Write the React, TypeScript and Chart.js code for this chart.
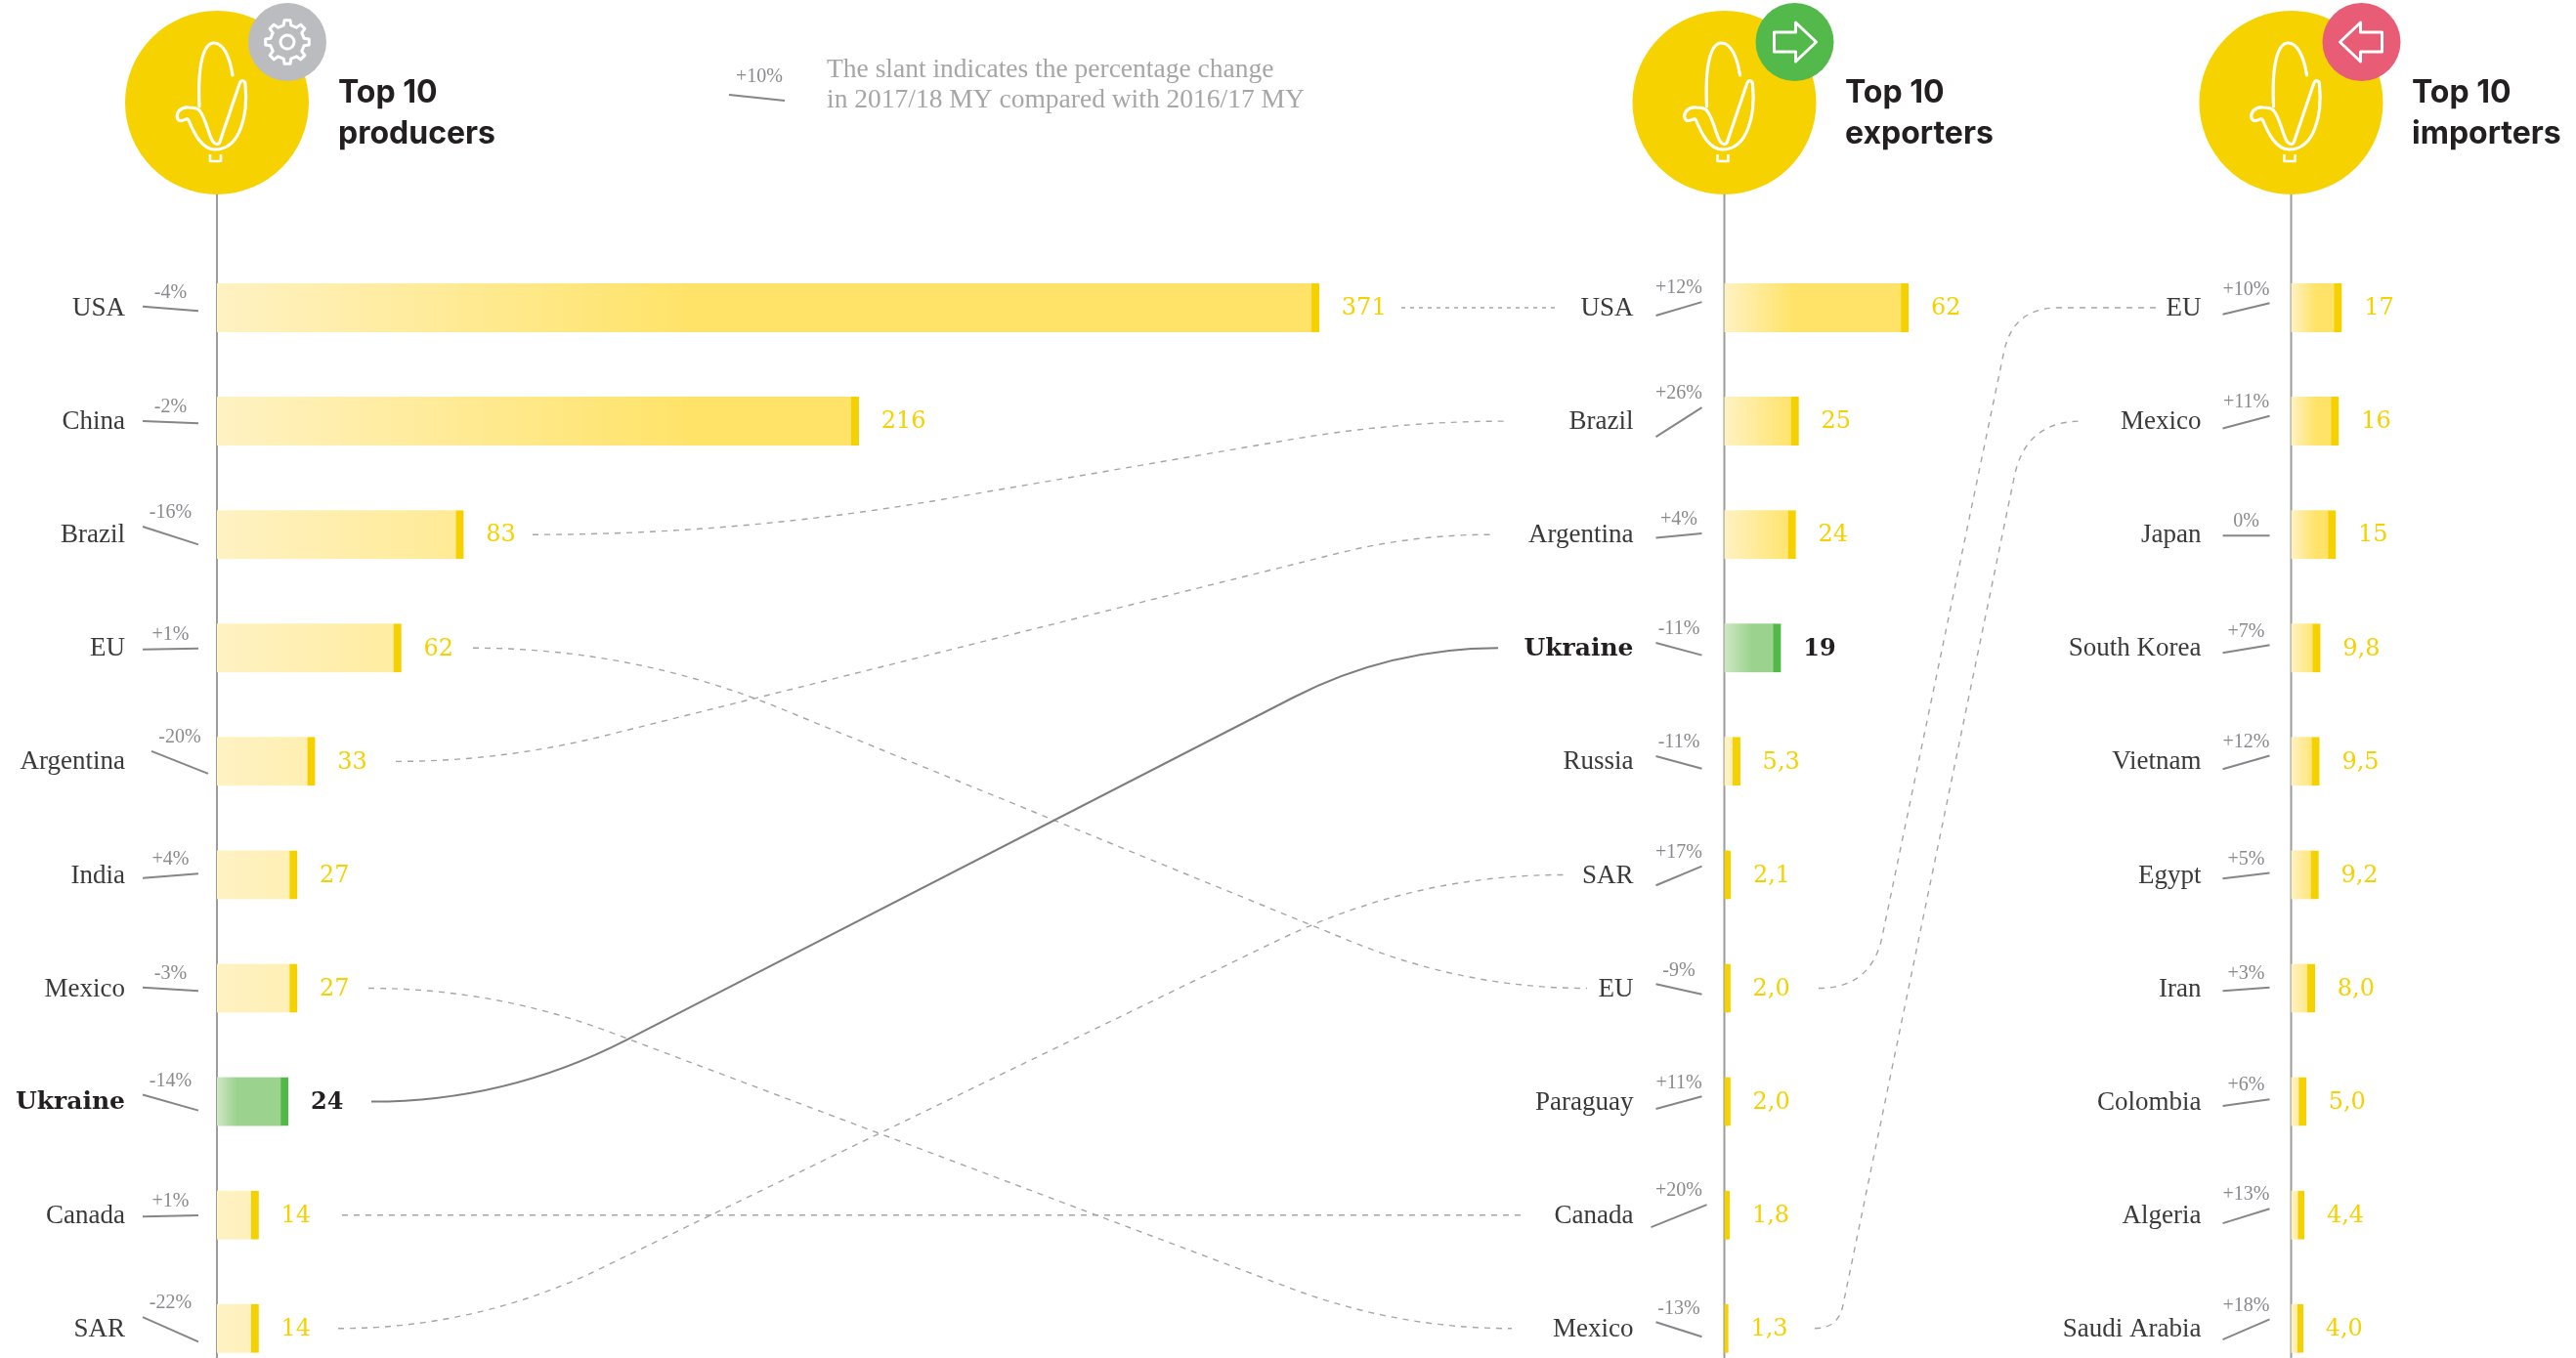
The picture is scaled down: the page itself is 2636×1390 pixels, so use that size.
import React, { useEffect, useRef } from "react";
import { Chart, registerables } from "chart.js";

Chart.register(...registerables);

// ---------- data ----------
const producerNames = ["USA", "China", "Brazil", "EU", "Argentina", "India", "Mexico", "Ukraine", "Canada", "SAR"];
const producerValues = [371, 216, 83, 62, 33, 27, 27, 24, 14, 14];
const producerChange = [-4, -2, -16, 1, -20, 4, -3, -14, 1, -22];

const exporterNames = ["USA", "Brazil", "Argentina", "Ukraine", "Russia", "SAR", "EU", "Paraguay", "Canada", "Mexico"];
const exporterValues = [62, 25, 24, 19, 5.3, 2.1, 2.0, 2.0, 1.8, 1.3];
const exporterChange = [12, 26, 4, -11, -11, 17, -9, 11, 20, -13];

const importerNames = ["EU", "Mexico", "Japan", "South Korea", "Vietnam", "Egypt", "Iran", "Colombia", "Algeria", "Saudi Arabia"];
const importerValues = [17, 16, 15, 9.8, 9.5, 9.2, 8.0, 5.0, 4.4, 4.0];
const importerChange = [10, 11, 0, 7, 12, 5, 3, 6, 13, 18];

// ---------- layout & style ----------
const W = 2636;
const VIEW_H = 1390;
const CANVAS_H = 1434; // rows end at 1418; the layout reserves 16px below them
const PX_PER_UNIT = 3.04;

const YELLOW = "#f5d100";
const GREEN = "#52b947";
const DARK = "#231f20";
const SLANT = "#86868a";
const FOCUS = "Ukraine";

const panels = [
  { x: "x1", y: "y1", axis: 222, labelGap: 94, names: producerNames, values: producerValues, change: producerChange,
    fade: 480, greenFade: 20, slantFrom: -76, slantTo: -19, badge: "gear", badgeColor: "#bbbcc0", title: ["Top 10", "producers"], titleX: 346, wide: { Argentina: [-67, -9] } },
  { x: "x2", y: "y2", axis: 1764.5, labelGap: 93, names: exporterNames, values: exporterValues, change: exporterChange,
    fade: 70, greenFade: 28, slantFrom: -70, slantTo: -23, badge: "right", badgeColor: "#52b94a", title: ["Top 10", "exporters"], titleX: 1888, wide: { Canada: [-75, -18] } },
  { x: "x3", y: "y3", axis: 2344.5, labelGap: 92, names: importerNames, values: importerValues, change: importerChange,
    fade: 25, greenFade: 20, slantFrom: -70, slantTo: -22, badge: "left", badgeColor: "#e85d75", title: ["Top 10", "importers"], titleX: 2468, wide: {} },
] as any[];

// connector routes: panel / row at both ends, x of start, first bend, second bend, end
const routes = [
  { from: ["y1", 0], to: ["y2", 0], xs: [1434, 1500, 1540, 1595], dash: [4, 5], solid: false },
  { from: ["y1", 2], to: ["y2", 1], xs: [545, 755, 1430, 1541], dash: [6, 6], solid: false },
  { from: ["y1", 3], to: ["y2", 6], xs: [484, 647, 1500, 1624], dash: [6, 6], solid: false },
  { from: ["y1", 4], to: ["y2", 2], xs: [405, 513, 1446, 1525], dash: [6, 6], solid: false },
  { from: ["y1", 6], to: ["y2", 9], xs: [377, 505, 1430, 1547], dash: [6, 6], solid: false },
  { from: ["y1", 7], to: ["y2", 3], xs: [380, 518, 1422, 1533], dash: [], solid: true },
  { from: ["y1", 8], to: ["y2", 8], xs: [350, 700, 1200, 1560], dash: [6, 6], solid: false },
  { from: ["y1", 9], to: ["y2", 5], xs: [346, 488, 1446, 1600], dash: [6, 6], solid: false },
  { from: ["y2", 6], to: ["y3", 0], xs: [1861, 1915, 2060, 2206], rb: 46, dash: [6, 6], solid: false },
  { from: ["y2", 9], to: ["y3", 1], xs: [1857, 1881, 2073, 2130], dash: [6, 6], solid: false },
] as any[];

const fmt = (v: number) => (v >= 10 ? String(v) : v.toFixed(1).replace(".", ","));
const signed = (v: number) => (v > 0 ? `+${v}%` : `${v}%`);

function drawCorn(c: CanvasRenderingContext2D, cx: number, cy: number) {
  c.save();
  c.translate(cx, cy);
  c.strokeStyle = "#fff";
  c.lineWidth = 3.2;
  c.lineCap = "round";
  c.lineJoin = "round";
  c.beginPath();
  c.moveTo(16, -28);
  c.bezierCurveTo(13, -48, 6, -61, -3, -61);
  c.bezierCurveTo(-14, -61, -20, -38, -18, 4);
  c.stroke();
  c.beginPath();
  c.moveTo(-18, 8);
  c.bezierCurveTo(-11, 16, -8, 36, -4, 40);
  c.bezierCurveTo(-1, 44, 2, 43, 3, 40);
  c.lineTo(23, -19);
  c.bezierCurveTo(25, -24, 29, -23, 29, -18);
  c.bezierCurveTo(32, 12, 24, 48, -2, 48);
  c.bezierCurveTo(-16, 48, -24, 30, -29, 18);
  c.bezierCurveTo(-31, 14, -36, 22, -40, 17);
  c.bezierCurveTo(-43, 10, -36, 4, -29, 5);
  c.bezierCurveTo(-24, 5, -20, 6, -18, 8);
  c.stroke();
  c.lineWidth = 2.6;
  c.lineCap = "butt";
  c.beginPath();
  c.moveTo(-7, 53);
  c.lineTo(-7, 60);
  c.lineTo(4, 60);
  c.lineTo(4, 53);
  c.stroke();
  c.restore();
}

function drawBadge(c: CanvasRenderingContext2D, kind: string, cx: number, cy: number) {
  c.save();
  c.translate(cx, cy);
  c.strokeStyle = "#fff";
  c.lineWidth = 3;
  c.lineJoin = "round";
  if (kind === "gear") {
    const teeth = 8;
    c.beginPath();
    for (let i = 0; i < teeth; i++) {
      const a = (i / teeth) * Math.PI * 2 - Math.PI / 2;
      const step = (Math.PI * 2) / teeth;
      const pts: [number, number][] = [
        [a - step * 0.28, 17.5],
        [a - step * 0.17, 22.5],
        [a + step * 0.17, 22.5],
        [a + step * 0.28, 17.5],
      ];
      pts.forEach(([ang, r], k) => {
        const px = Math.cos(ang) * r;
        const py = Math.sin(ang) * r;
        if (i === 0 && k === 0) c.moveTo(px, py);
        else c.lineTo(px, py);
      });
    }
    c.closePath();
    c.stroke();
    c.beginPath();
    c.arc(0, 0, 7, 0, Math.PI * 2);
    c.stroke();
  } else {
    const s = kind === "right" ? 1 : -1;
    const pts = [[-21, -10], [1, -10], [1, -20], [22, 0], [1, 20], [1, 10], [-21, 10]];
    c.beginPath();
    pts.forEach(([px, py], k) => (k ? c.lineTo(s * px, py) : c.moveTo(s * px, py)));
    c.closePath();
    c.stroke();
  }
  c.restore();
}

const connectors = {
  id: "connectors",
  beforeDatasetsDraw(chart: any) {
    const c = chart.ctx as CanvasRenderingContext2D;
    routes.forEach((r) => {
      const y0 = chart.scales[r.from[0]].getPixelForValue(r.from[1]);
      const y1 = chart.scales[r.to[0]].getPixelForValue(r.to[1]);
      const [x0, ax, bx, x1] = r.xs;
      c.save();
      c.strokeStyle = r.solid ? "#7d7d7d" : "#a6a6a6";
      c.lineWidth = r.solid ? 2 : 1.4;
      c.setLineDash(r.dash);
      c.beginPath();
      c.moveTo(x0, y0);
      if (y0 === y1) {
        c.lineTo(x1, y1);
      } else {
        const len = Math.hypot(bx - ax, y1 - y0);
        const ux = (bx - ax) / len;
        const uy = (y1 - y0) / len;
        const ra = Math.min(ax - x0, len / 2.2);
        const rb = r.rb || Math.min(x1 - bx, len / 2.2);
        c.quadraticCurveTo(ax, y0, ax + ux * ra, y0 + uy * ra);
        c.lineTo(bx - ux * rb, y1 - uy * rb);
        c.quadraticCurveTo(bx, y1, bx + rb, y1);
        c.lineTo(x1, y1);
      }
      c.stroke();
      c.restore();
    });
    // vertical stems, from the disc down through the rows
    panels.forEach((p) => {
      const x = chart.scales[p.x].getPixelForValue(0);
      c.save();
      c.strokeStyle = "#9c9c9c";
      c.lineWidth = 2;
      c.beginPath();
      c.moveTo(x, 150);
      c.lineTo(x, CANVAS_H);
      c.stroke();
      c.restore();
    });
  },
};

const annotations = {
  id: "annotations",
  afterDraw(chart: any) {
    const c = chart.ctx as CanvasRenderingContext2D;
    panels.forEach((p, pi) => {
      const meta = chart.getDatasetMeta(pi);
      const xs = chart.scales[p.x];
      const ys = chart.scales[p.y];
      const zero = xs.getPixelForValue(0);
      // value labels
      p.values.forEach((v: number, i: number) => {
        const el = meta.data[i];
        const focus = p.names[i] === FOCUS;
        c.save();
        c.font = `${focus ? "bold " : ""}24px "DejaVu Serif"`;
        c.fillStyle = focus ? DARK : YELLOW;
        c.textAlign = "left";
        c.textBaseline = "middle";
        c.fillText(fmt(v), el.x + 23, ys.getPixelForValue(i) + 1);
        c.restore();
        // slant mark + percentage
        const [a, b] = p.wide[p.names[i]] || [p.slantFrom, p.slantTo];
        const dy = -p.change[i] * 1.15;
        const cy = ys.getPixelForValue(i) + 1;
        c.save();
        c.strokeStyle = SLANT;
        c.lineWidth = 2;
        c.beginPath();
        c.moveTo(zero + a, cy - dy / 2);
        c.lineTo(zero + b, cy + dy / 2);
        c.stroke();
        c.font = `20px "Liberation Serif"`;
        c.fillStyle = "#8a8a8e";
        c.textAlign = "center";
        c.textBaseline = "middle";
        c.fillText(signed(p.change[i]), zero + (a + b) / 2, cy - Math.abs(dy) / 2 - 14);
        c.restore();
      });
      // disc, corn, badge
      c.save();
      c.fillStyle = "#f5d200";
      c.beginPath();
      c.arc(zero, 105, 94, 0, Math.PI * 2);
      c.fill();
      c.restore();
      drawCorn(c, zero, 105);
      c.save();
      c.fillStyle = p.badgeColor;
      c.beginPath();
      c.arc(zero + 72, 43, 40, 0, Math.PI * 2);
      c.fill();
      c.restore();
      drawBadge(c, p.badge, zero + 72, 43);
      // title
      c.save();
      c.font = `700 32px Inter`;
      c.fillStyle = DARK;
      c.textAlign = "left";
      c.textBaseline = "middle";
      c.fillText(p.title[0], p.titleX, 95);
      c.fillText(p.title[1], p.titleX, 137);
      c.restore();
    });
    // slant key
    c.save();
    c.strokeStyle = SLANT;
    c.lineWidth = 2;
    c.beginPath();
    c.moveTo(746, 97);
    c.lineTo(803, 103);
    c.stroke();
    c.font = `20px "Liberation Serif"`;
    c.fillStyle = "#8a8a8e";
    c.textAlign = "center";
    c.textBaseline = "middle";
    c.fillText("+10%", 777, 79);
    c.font = `27.5px "Liberation Serif"`;
    c.fillStyle = "#a6a6a6";
    c.textAlign = "left";
    c.fillText("The slant indicates the percentage change", 846, 72);
    c.fillText("in 2017/18 MY compared with 2016/17 MY", 846, 103);
    c.restore();
  },
};

export default function App() {
  const ref = useRef<HTMLCanvasElement>(null);
  useEffect(() => {
    const scales: any = {};
    panels.forEach((p) => {
      scales[p.x] = {
        type: "linear",
        display: false,
        min: -p.axis / PX_PER_UNIT,
        max: (W - p.axis) / PX_PER_UNIT,
      };
      scales[p.y] = {
        type: "category",
        labels: p.names,
        position: { [p.x]: -p.labelGap / PX_PER_UNIT },
        grid: { display: false },
        border: { display: false },
        ticks: {
          autoSkip: false,
          padding: 0,
          labelOffset: 1,
          color: (ctx: any) => (p.names[ctx.index] === FOCUS ? DARK : "#3a3a3a"),
          font: (ctx: any) =>
            p.names[ctx.index] === FOCUS
              ? { family: "DejaVu Serif", weight: "bold", size: 25 }
              : { family: "Liberation Serif", size: 27 },
        },
      };
    });
    const chart = new Chart(ref.current as HTMLCanvasElement, {
      type: "bar",
      plugins: [connectors, annotations],
      data: {
        labels: producerNames,
        datasets: panels.map((p) => ({
          label: p.title.join(" "),
          data: p.values,
          xAxisID: p.x,
          yAxisID: p.y,
          grouped: false,
          barThickness: 50,
          borderSkipped: false,
          borderWidth: { top: 0, bottom: 0, left: 0, right: 8 },
          borderColor: (ctx: any) => (p.names[ctx.dataIndex] === FOCUS ? GREEN : YELLOW),
          backgroundColor: (ctx: any) => {
            const v = p.values[ctx.dataIndex];
            const focus = p.names[ctx.dataIndex] === FOCUS;
            if (v < 3) return focus ? GREEN : YELLOW;
            const g = ctx.chart.ctx.createLinearGradient(p.axis, 0, p.axis + (focus ? p.greenFade : p.fade), 0);
            g.addColorStop(0, focus ? "#cfe7c5" : "#fff2c3");
            g.addColorStop(1, focus ? "#9bd38e" : "#ffe369");
            return g;
          },
        })),
      },
      options: {
        animation: false,
        responsive: false,
        indexAxis: "y",
        layout: { autoPadding: false, padding: { top: 257, bottom: 0, left: 0, right: 0 } },
        plugins: { legend: { display: false }, tooltip: { enabled: false }, title: { display: false } },
        scales,
      },
    } as any);
    return () => chart.destroy();
  }, []);
  return (
    <div style={{ position: "fixed", left: 0, top: 0, width: W, height: VIEW_H, overflow: "hidden", background: "#fff" }}>
      <canvas ref={ref} width={W} height={CANVAS_H} style={{ display: "block" }} />
    </div>
  );
}
